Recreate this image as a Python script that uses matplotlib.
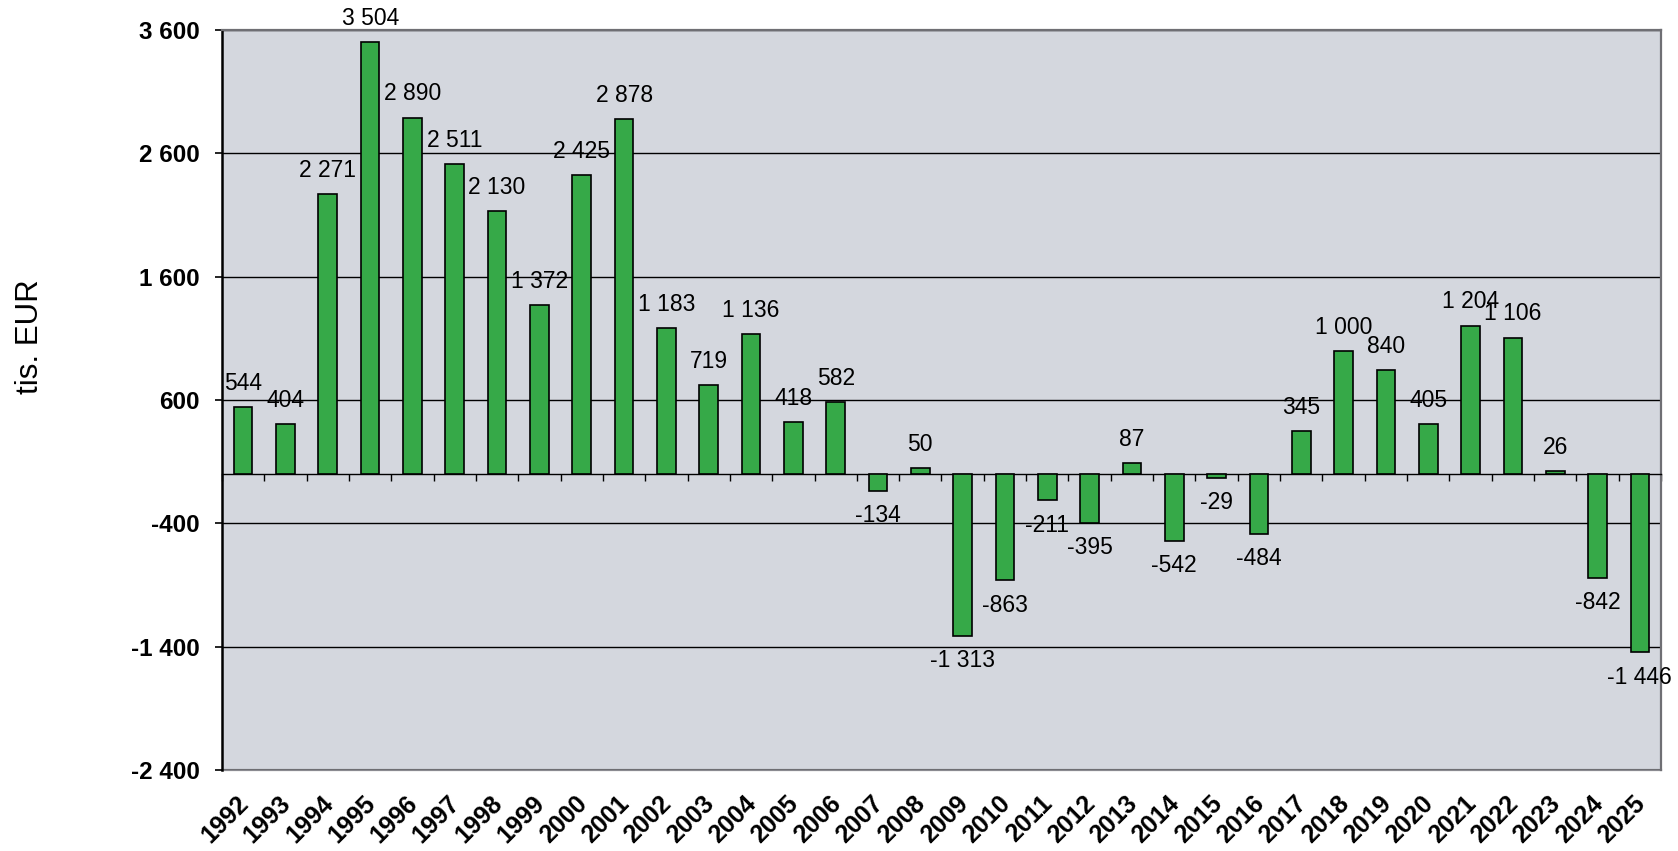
import matplotlib
matplotlib.use("Agg")
import matplotlib.pyplot as plt
import matplotlib.transforms as mtransforms
import numpy as np

years = [str(y) for y in range(1992, 2026)]
values = [544, 404, 2271, 3504, 2890, 2511, 2130, 1372, 2425, 2878,
          1183, 719, 1136, 418, 582, -134, 50, -1313, -863, -211,
          -395, 87, -542, -29, -484, 345, 1000, 840, 405, 1204,
          1106, 26, -842, -1446]
yticks = [3600, 2600, 1600, 600, -400, -1400, -2400]

plt.rcParams['font.family'] = ['Liberation Sans', 'DejaVu Sans']


def fmt(v):
    return f"{v:,}".replace(",", " ")


W, H = 1678, 851
fig = plt.figure(figsize=(W / 100, H / 100), dpi=100)
ax = fig.add_axes([222 / W, 1 - 770 / H, (1661 - 222) / W, (770 - 30) / H])
ax.set_facecolor('#d4d7de')

x = np.arange(len(years))
ax.bar(x, values, width=0.44, color='#36a948', edgecolor='black', linewidth=1.2, zorder=3)

ax.set_xlim(-0.5, len(years) - 0.5)
ax.set_ylim(yticks[-1], yticks[0])
ax.set_yticks(yticks)
ax.set_yticklabels([fmt(v) for v in yticks], fontsize=17.5, fontweight='bold')
ax.tick_params(axis='y', length=5, width=1.2, pad=11)
ax.grid(axis='y', color='black', linewidth=1.0, zorder=1)

# zero axis with tick marks between categories
ax.spines['bottom'].set_position(('data', 0))
ax.spines['bottom'].set_linewidth(1.0)
ax.set_xticks(np.arange(len(years) + 1) - 0.5)
ax.set_xticklabels([])
ax.tick_params(axis='x', length=5, width=1.0, direction='out')
ax.spines['left'].set_linewidth(1.8)
for s in ['top', 'right']:
    ax.spines[s].set_color('#6f6f74')
    ax.spines[s].set_linewidth(1.6)

# category labels at the bottom of the plot area
sec = ax.secondary_xaxis('bottom')
sec.set_xticks(x)
sec.set_xticklabels(years, rotation=45, ha='right', va='top',
                    rotation_mode='anchor', fontsize=18, fontweight='bold')
sec.tick_params(length=0, pad=15)
sec.spines['bottom'].set_color('#8a8a90')
sec.spines['bottom'].set_linewidth(1.6)
shift = mtransforms.ScaledTranslation(-0.07, 0, fig.dpi_scale_trans)
for lab in sec.get_xticklabels():
    lab.set_transform(lab.get_transform() + shift)

for xi, v in zip(x, values):
    off = 17 if v >= 0 else -18
    ax.annotate(fmt(v), (xi, v), xytext=(0, off), textcoords='offset points',
                ha='center', va='center', fontsize=16.5, zorder=4)

fig.text(30 / W, 1 - 337 / H, 'tis. EUR', rotation=90, ha='center', va='center', fontsize=22.5)

fig.savefig('out.png', dpi=100, facecolor='white')
